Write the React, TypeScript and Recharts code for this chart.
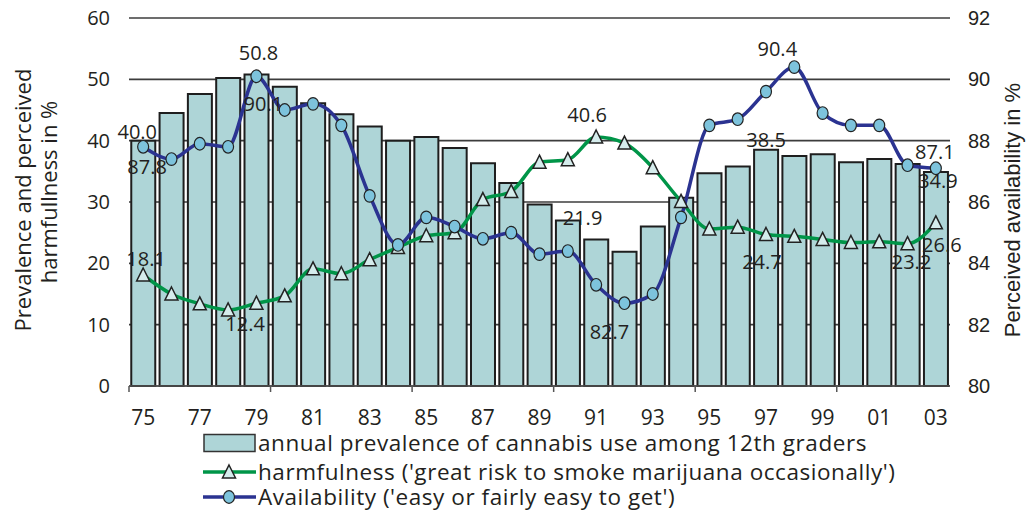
import { ComposedChart, Bar, Line, XAxis, YAxis, CartesianGrid, LabelList, Label } from "recharts"

const years = ["75", "76", "77", "78", "79", "80", "81", "82", "83", "84", "85", "86", "87", "88", "89", "90", "91", "92", "93", "94", "95", "96", "97", "98", "99", "00", "01", "02", "03"]
const prevalence = [40.0, 44.5, 47.6, 50.2, 50.8, 48.8, 46.1, 44.3, 42.3, 40.0, 40.6, 38.8, 36.3, 33.1, 29.6, 27.0, 23.9, 21.9, 26.0, 30.7, 34.7, 35.8, 38.5, 37.5, 37.8, 36.5, 37.0, 36.2, 34.9]
const harmfulness = [18.1, 15.0, 13.4, 12.4, 13.5, 14.7, 19.1, 18.3, 20.6, 22.6, 24.5, 25.0, 30.4, 31.7, 36.5, 36.9, 40.6, 39.6, 35.6, 30.1, 25.6, 25.9, 24.7, 24.4, 23.9, 23.4, 23.5, 23.2, 26.6]
const availability = [87.8, 87.4, 87.9, 87.8, 90.1, 89.0, 89.2, 88.5, 86.2, 84.6, 85.5, 85.2, 84.8, 85.0, 84.3, 84.4, 83.3, 82.7, 83.0, 85.5, 88.5, 88.7, 89.6, 90.4, 88.9, 88.5, 88.5, 87.2, 87.1]

const leftTicks = [0, 10, 20, 30, 40, 50, 60]
const rightTicks = [80, 82, 84, 86, 88, 90, 92]

const prevalenceName = "annual prevalence of cannabis use among 12th graders"
const harmfulnessName = "harmfulness ('great risk to smoke marijuana occasionally')"
const availabilityName = "Availability ('easy or fairly easy to get')"

// years that carry a value label -> [dx, dy] of the label from its mark
const prevalenceLabels: Record<string, number[]> = { "75": [-6, -9], "79": [2, -22], "92": [-42, -34], "97": [0, -10], "03": [2, 9] }
const harmfulnessLabels: Record<string, number[]> = { "75": [3, -16], "78": [17, 14], "91": [-9, -22], "97": [-4, 27], "02": [4, 18], "03": [6, 22] }
const availabilityLabels: Record<string, number[]> = { "75": [4, 20], "79": [7, 27], "92": [-15, 28], "98": [-17, -19], "03": [-1, -17] }

const data = years.map((year, i) => ({
  year,
  prevalence: prevalence[i],
  harmfulness: harmfulness[i],
  availability: availability[i],
}))

const W = 1026
const H = 513
const LEFT_W = 129
const RIGHT_W = 76
const TOP = 18
const X_H = 127
const step = (W - LEFT_W - RIGHT_W) / years.length

const TEXT = "#231f20"
const SANS = "'Open Sans', 'Noto Sans', sans-serif"
const ARIAL = "'Liberation Sans', Arial, sans-serif"
const BAR_FILL = "#aed5d7"
const GREEN = "#009548"
const BLUE = "#2b3391"
const CIRCLE = "#7dc3dc"
const TRI = "#d5ecec"

function valueLabel(offsets: Record<string, number[]>) {
  return (props: any) => {
    const off = offsets[years[props.index]]
    if (!off) return null
    const vb = props.viewBox ?? props
    const x = vb.x + (vb.width || 0) / 2
    const y = vb.y
    return (
      <text x={x + off[0]} y={y + off[1]} textAnchor="middle" dominantBaseline="central" fontFamily={SANS} fontSize={20} fill={TEXT}>
        {Number(props.value).toFixed(1)}
      </text>
    )
  }
}

function Triangle({ cx, cy, index }: any) {
  return (
    <path key={`t-${index}`} d={`M${cx},${cy - 7} L${cx + 6.5},${cy + 6} L${cx - 6.5},${cy + 6} Z`} fill={TRI} stroke="#222" strokeWidth={1.5} />
  )
}

function Circle({ cx, cy, index }: any) {
  return <ellipse key={`c-${index}`} cx={cx} cy={cy} rx={5.5} ry={6.3} fill={CIRCLE} stroke="#222" strokeWidth={1.2} />
}

function YearTick({ x, y, payload, index }: any) {
  return (
    <g>
      {index % 5 === 0 && <line x1={x - step / 2} x2={x - step / 2} y1={y} y2={y + 6} stroke="#555" strokeWidth={1.5} />}
      {index % 2 === 0 && (
        <text x={x} y={y + 31} textAnchor="middle" dominantBaseline="central" fontFamily={SANS} fontSize={21} fill={TEXT}>
          {payload.value}
        </text>
      )}
    </g>
  )
}

function LeftTitle() {
  return (
    <g fontFamily={SANS} fontSize={22} fill={TEXT}>
      <text transform="translate(22,200) rotate(-90)" textAnchor="middle" dominantBaseline="central">Prevalence and perceived</text>
      <text transform="translate(48,192) rotate(-90)" textAnchor="middle" dominantBaseline="central">harmfullness in %</text>
    </g>
  )
}

function RightTitle() {
  return (
    <text transform="translate(1012,210) rotate(-90)" textAnchor="middle" dominantBaseline="central" fontFamily={ARIAL} fontSize={22} fill={TEXT}>
      Perceived availability in %
    </text>
  )
}

function LegendRow({ center, kind, name }: { center: number; kind: string; name: string }) {
  return (
    <div style={{ position: "absolute", left: 203, top: center - 12, height: 24, display: "flex", alignItems: "center" }}>
      <svg width={55} height={24} style={{ display: "block" }}>
        {kind === "bar" && <rect x={1} y={3.5} width={51} height={17} fill={BAR_FILL} stroke="#333" strokeWidth={1.5} />}
        {kind !== "bar" && <line x1={0} x2={53} y1={12} y2={12} stroke={kind === "tri" ? GREEN : BLUE} strokeWidth={3.5} />}
        {kind === "tri" && <path d="M26,5 L32.5,18 L19.5,18 Z" fill={TRI} stroke="#222" strokeWidth={1.5} />}
        {kind === "circle" && <ellipse cx={26} cy={12} rx={5.5} ry={6.3} fill={CIRCLE} stroke="#222" strokeWidth={1.2} />}
      </svg>
      <span style={{ fontFamily: SANS, fontSize: 22.5, lineHeight: "22px", letterSpacing: 0.55, color: TEXT, whiteSpace: "nowrap" }}>{name}</span>
    </div>
  )
}

export default function App() {
  return (
    <div style={{ position: "absolute", left: 0, top: 0, width: W, height: H, background: "#fff" }}>
      <ComposedChart width={W} height={H} data={data} margin={{ top: TOP, right: 0, bottom: 0, left: 0 }} barCategoryGap="8%">
        <CartesianGrid yAxisId="l" vertical={false} stroke="#3c3c3c" strokeWidth={1.6} />
        <XAxis dataKey="year" height={X_H} interval={0} tickSize={0} tickMargin={0} tickLine={false} axisLine={{ stroke: "#555", strokeWidth: 1.5 }} tick={<YearTick />} />
        <YAxis yAxisId="l" width={LEFT_W} domain={[0, 60]} ticks={leftTicks} axisLine={false} tickLine={false} tickSize={0} tickMargin={19} tick={{ fontFamily: SANS, fontSize: 20, fill: TEXT }}>
          <Label content={<LeftTitle />} />
        </YAxis>
        <YAxis yAxisId="r" orientation="right" width={RIGHT_W} domain={[80, 92]} ticks={rightTicks} axisLine={false} tickLine={false} tickSize={0} tickMargin={18} tick={{ fontFamily: ARIAL, fontSize: 20, fill: TEXT, textAnchor: "start" }}>
          <Label content={<RightTitle />} />
        </YAxis>
        <Bar yAxisId="l" dataKey="prevalence" name={prevalenceName} fill={BAR_FILL} stroke="#1e1e1e" strokeWidth={2} isAnimationActive={false}>
          <LabelList dataKey="prevalence" content={valueLabel(prevalenceLabels)} />
        </Bar>
        <Line yAxisId="l" type="monotone" dataKey="harmfulness" name={harmfulnessName} stroke={GREEN} strokeWidth={3.5} dot={(p: any) => <Triangle {...p} />} isAnimationActive={false}>
          <LabelList dataKey="harmfulness" content={valueLabel(harmfulnessLabels)} />
        </Line>
        <Line yAxisId="r" type="monotone" dataKey="availability" name={availabilityName} stroke={BLUE} strokeWidth={3.5} dot={(p: any) => <Circle {...p} />} isAnimationActive={false}>
          <LabelList dataKey="availability" content={valueLabel(availabilityLabels)} />
        </Line>
      </ComposedChart>
      <LegendRow center={443} kind="bar" name={prevalenceName} />
      <LegendRow center={472} kind="tri" name={harmfulnessName} />
      <LegendRow center={497} kind="circle" name={availabilityName} />
    </div>
  )
}
